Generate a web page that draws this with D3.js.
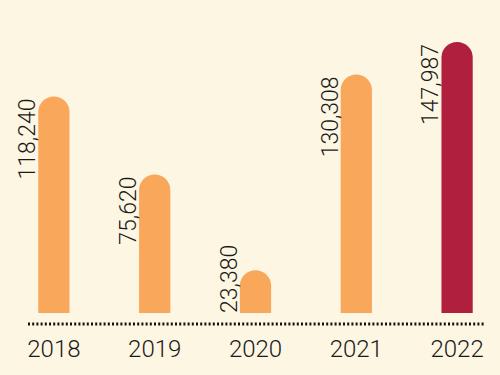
<!DOCTYPE html>
<html>
<head>
<meta charset="utf-8">
<script src="https://cdn.jsdelivr.net/npm/d3@7"></script>
<style>
  html, body { margin: 0; padding: 0; background: #fdf6e3; }
  svg { display: block; font-family: Roboto, "Liberation Sans", sans-serif; font-weight: 300; }
</style>
</head>
<body>
<div id="chart"></div>
<script>
// Data
const years = ["2018", "2019", "2020", "2021", "2022"];
const values = [118240, 75620, 23380, 130308, 147987];
const highlightYear = "2022";

const W = 500, H = 375;
const baseY = 313;

const svg = d3.select("#chart").append("svg")
  .attr("width", W)
  .attr("height", H);

svg.append("rect")
  .attr("width", W).attr("height", H)
  .attr("fill", "#fdf6e3");

const x = d3.scaleBand()
  .domain(years)
  .range([3, 508])
  .paddingInner(0.69)
  .paddingOuter(0.35);

const y = d3.scaleLinear()
  .domain([0, d3.max(values)])
  .range([baseY, 42]);

const data = years.map((yr, i) => ({ year: yr, value: values[i] }));

// bar with round top
function barPath(d) {
  const x0 = x(d.year), w = x.bandwidth(), r = w / 2;
  const top = y(d.value);
  return `M${x0},${baseY} L${x0},${top + r} A${r},${r} 0 0 1 ${x0 + w},${top + r} L${x0 + w},${baseY} Z`;
}

svg.selectAll("path.bar")
  .data(data)
  .join("path")
  .attr("class", "bar")
  .attr("d", barPath)
  .attr("fill", d => d.year === highlightYear ? "#b01f3e" : "#f9a75a");

// value labels, rotated, left of each bar; kept above the baseline
svg.selectAll("text.val")
  .data(data)
  .join("text")
  .attr("class", "val")
  .attr("text-anchor", "end")
  .attr("font-size", 23)
  .attr("fill", "#1a1a1a")
  .text(d => d3.format(",")(d.value))
  .attr("transform", function(d) {
    const len = this.getComputedTextLength();
    const ty = Math.min(y(d.value) + 2, baseY - len);
    return `translate(${x(d.year) - 3},${ty}) rotate(-90)`;
  });

// dotted baseline
svg.append("line")
  .attr("x1", 28).attr("x2", 485)
  .attr("y1", 324).attr("y2", 324)
  .attr("stroke", "#111")
  .attr("stroke-width", 3)
  .attr("stroke-dasharray", "2,2.2");

// year labels
svg.selectAll("text.year")
  .data(data)
  .join("text")
  .attr("class", "year")
  .attr("x", d => x(d.year) + x.bandwidth() / 2)
  .attr("y", 357)
  .attr("text-anchor", "middle")
  .attr("font-size", 24)
  .attr("fill", "#1a1a1a")
  .text(d => d.year);
</script>
</body>
</html>
